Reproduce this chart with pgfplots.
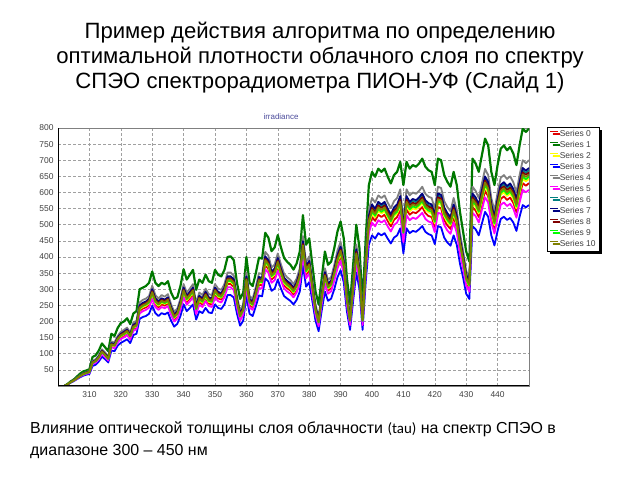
\documentclass[border=0pt]{standalone}
\usepackage{fontspec}
\setmainfont{Liberation Sans}
\newfontfamily\calib{Carlito}
\usepackage{pgfplots}
\usepackage{pgfplotstable}
\pgfplotsset{compat=1.18}
\usetikzlibrary{shadows}
\definecolor{sGreen}{HTML}{007800}
\definecolor{sRed}{HTML}{E00000}
\definecolor{sYellow}{HTML}{FFFF00}
\definecolor{sBlue}{HTML}{0000FF}
\definecolor{sGray}{HTML}{808080}
\definecolor{sMag}{HTML}{FF00FF}
\definecolor{sTeal}{HTML}{008080}
\definecolor{sNavy}{HTML}{000080}
\definecolor{sMaroon}{HTML}{800000}
\definecolor{sLime}{HTML}{00FF00}
\definecolor{sOlive}{HTML}{808000}
\definecolor{titleblue}{HTML}{4A4A9A}
\definecolor{gridc}{HTML}{A0A0A0}

\pgfplotstableread{
x G B gray teal dred olive lg yel red mag blue
302 0 0 0 0 0 0 0 0 0 0 0
303 6 5 5 5 5 5 5 5 5 4 4
304 14 12 12 12 12 12 12 11 11 11 10
305 20 18 19 18 18 17 17 17 17 16 15
306 29 25 26 25 24 24 24 24 23 22 21
307 38 32 33 32 31 31 31 30 30 29 27
308 45 38 39 38 37 37 36 36 35 34 32
309 48 42 43 42 41 41 40 40 39 38 35
310 52 45 47 45 44 44 43 43 42 40 37
311 90 75 78 74 74 73 72 71 70 68 62
312 95 80 83 79 78 78 77 76 74 72 66
313 110 92 95 91 90 89 88 87 86 83 76
314 132 110 114 109 108 107 106 105 102 99 91
315 120 100 104 99 98 97 96 95 93 90 83
316 108 88 91 87 86 85 84 84 82 79 73
317 162 133 138 132 130 129 128 126 124 120 110
318 155 130 135 129 127 126 125 124 121 117 108
319 180 150 155 149 147 146 144 143 140 135 125
320 195 162 168 160 159 157 156 154 151 146 134
321 200 168 174 166 165 163 161 160 156 151 139
322 210 175 181 173 172 170 168 166 163 158 145
323 192 160 166 158 157 155 154 152 149 144 133
324 225 190 197 188 186 184 182 181 177 171 158
325 232 195 202 193 191 189 187 185 181 176 162
326 300 250 259 248 245 243 240 238 233 225 208
327 305 258 267 255 253 250 248 245 240 232 214
328 310 262 271 259 257 254 252 249 244 236 217
329 320 270 279 267 265 262 259 257 251 243 224
330 355 300 311 297 294 291 288 285 279 270 249
331 320 272 282 269 267 264 261 258 253 245 226
332 310 262 271 259 257 254 252 249 244 236 217
333 320 272 282 269 267 264 261 258 253 245 226
334 315 268 277 265 263 260 257 255 249 241 222
335 325 275 285 272 270 267 264 261 256 248 228
336 290 245 254 243 240 238 235 233 228 221 203
337 270 222 230 220 218 215 213 211 206 200 184
338 275 232 240 230 227 225 223 220 216 209 193
339 310 262 271 259 257 254 252 249 244 236 217
340 362 305 316 302 299 296 293 290 284 275 253
341 330 280 290 277 274 272 269 266 260 252 232
342 345 292 302 289 286 283 280 277 272 263 242
343 360 305 316 302 299 296 293 290 284 275 253
344 298 248 257 246 243 241 238 236 231 223 206
345 330 280 290 277 274 272 269 266 260 252 232
346 320 272 282 269 267 264 261 258 253 245 226
347 345 292 302 289 286 283 280 277 272 263 242
348 325 275 285 272 270 267 264 261 256 248 228
349 320 272 282 269 267 264 261 258 253 245 226
350 360 305 316 302 299 296 293 290 284 275 253
351 345 292 302 289 286 283 280 277 272 263 242
352 340 288 298 285 282 279 276 274 268 259 239
353 360 305 316 302 299 296 293 290 284 275 253
354 400 340 352 337 333 330 326 323 316 306 282
355 402 340 352 337 333 330 326 323 316 306 282
356 390 330 342 327 323 320 317 314 307 297 274
357 320 270 279 267 265 262 259 257 251 243 224
358 270 225 233 223 221 218 216 214 209 203 187
359 290 245 254 243 240 238 235 233 228 221 203
360 400 340 352 337 333 330 326 323 316 306 282
361 320 270 279 267 265 262 259 257 251 243 224
362 310 262 271 259 257 254 252 249 244 236 217
363 350 297 307 294 291 288 285 282 276 267 247
364 398 338 350 335 331 328 324 321 314 304 281
365 395 335 347 332 328 325 322 318 312 302 278
366 475 402 416 398 394 390 386 382 374 362 334
367 460 390 404 386 382 378 374 371 363 351 324
368 418 355 367 351 348 344 341 337 330 320 295
369 430 364 377 360 357 353 349 346 339 328 302
370 468 397 411 393 389 385 381 377 369 357 330
371 430 364 377 360 357 353 349 346 339 328 302
372 397 336 348 333 329 326 323 319 312 302 279
373 385 326 337 323 319 316 313 310 303 293 271
374 376 318 329 315 312 308 305 302 296 286 264
375 361 305 316 302 299 296 293 290 284 275 253
376 380 322 333 319 316 312 309 306 299 290 267
377 417 353 365 349 346 342 339 335 328 318 293
378 530 449 465 445 440 436 431 427 418 404 373
379 438 371 384 367 364 360 356 352 345 334 308
380 458 388 402 384 380 376 372 369 361 349 322
381 376 318 329 315 312 308 305 302 296 286 264
382 294 245 254 243 240 238 235 233 228 221 203
383 253 205 212 203 201 199 197 195 191 185 170
384 335 283 293 280 277 275 272 269 263 255 235
385 417 353 365 349 346 342 339 335 328 318 293
386 376 318 329 315 312 308 305 302 296 286 264
387 386 327 338 324 320 317 314 311 304 294 271
388 428 363 376 359 356 352 348 345 338 327 301
389 479 406 420 402 398 394 390 386 378 365 337
390 510 432 447 428 423 419 415 410 402 389 359
391 458 388 402 384 380 376 372 369 361 349 322
392 335 280 290 277 274 272 269 266 260 252 232
393 253 210 217 208 206 204 202 200 195 189 174
394 376 318 329 315 312 308 305 302 296 286 264
395 500 424 439 420 416 411 407 403 394 382 352
396 428 363 376 359 356 352 348 345 338 327 301
397 253 210 217 208 206 204 202 200 195 189 174
398 458 388 402 384 380 376 372 369 361 349 322
399 623 528 546 523 517 512 507 502 491 475 438
400 664 563 583 557 552 546 540 535 524 507 467
401 649 550 569 545 539 534 528 523 512 495 457
402 674 571 591 565 560 554 548 542 531 514 474
403 664 563 583 557 552 546 540 535 524 507 467
404 674 571 591 565 560 554 548 542 531 514 474
405 649 550 569 545 539 534 528 523 512 495 457
406 628 532 551 527 521 516 511 505 495 479 442
407 654 554 573 548 543 537 532 526 515 499 460
408 664 563 583 557 552 546 540 535 524 507 467
409 695 589 610 583 577 571 565 560 548 530 489
410 623 495 512 490 485 480 475 470 460 446 411
411 695 589 610 583 577 571 565 560 548 530 489
412 674 571 591 565 560 554 548 542 531 514 474
413 685 580 600 574 568 563 557 551 539 522 481
414 680 576 596 570 564 559 553 547 536 518 478
415 690 585 605 579 573 567 562 556 544 527 486
416 705 597 618 591 585 579 573 567 555 537 496
417 680 576 596 570 564 559 553 547 536 518 478
418 669 567 587 561 556 550 544 539 527 510 471
419 664 563 583 557 552 546 540 535 524 507 467
420 623 530 549 525 519 514 509 504 493 477 440
421 705 597 618 591 585 579 573 567 555 537 496
422 700 593 614 587 581 575 569 563 551 534 492
423 654 554 573 548 543 537 532 526 515 499 460
424 633 536 555 531 525 520 515 509 498 482 445
425 618 524 542 519 514 508 503 498 487 472 435
426 664 563 583 557 552 546 540 535 524 507 467
427 623 528 546 523 517 512 507 502 491 475 438
428 541 458 474 453 449 444 440 435 426 412 380
429 479 406 420 402 398 394 390 386 378 365 337
430 417 345 357 342 338 335 331 328 321 311 286
431 386 325 336 322 319 315 312 309 302 293 270
432 705 597 618 591 585 579 573 567 555 537 496
433 690 585 605 579 573 567 562 556 544 527 486
434 664 563 583 557 552 546 540 535 524 507 467
435 716 607 628 601 595 589 583 577 565 546 504
436 767 650 673 644 637 631 624 618 605 585 540
437 746 632 654 626 619 613 607 600 588 569 525
438 664 563 583 557 552 546 540 535 524 507 467
439 623 525 543 520 515 509 504 499 488 473 436
440 685 580 600 574 568 563 557 551 539 522 481
441 736 624 646 618 612 605 599 593 580 562 518
442 746 632 654 626 619 613 607 600 588 569 525
443 731 620 642 614 608 601 595 589 577 558 515
444 741 628 650 622 615 609 603 597 584 565 521
445 721 611 632 605 599 593 587 580 568 550 507
446 685 580 600 574 568 563 557 551 539 522 481
447 746 632 654 626 619 613 607 600 588 569 525
448 798 676 700 669 662 656 649 642 629 608 561
449 788 668 691 661 655 648 641 635 621 601 554
450 798 676 700 669 662 656 649 642 629 608 561
}\spectab

\begin{document}
\begin{tikzpicture}[x=1bp,y=1bp]
\path[use as bounding box] (0bp,0bp) rectangle (640bp,480bp);
% title
\node[anchor=base, inner sep=0pt] at (320bp,441bp) {\fontsize{22.2}{25}\selectfont Пример действия алгоритма по определению};
\node[anchor=base, inner sep=0pt] at (320bp,416bp) {\fontsize{22.2}{25}\selectfont оптимальной плотности облачного слоя по спектру};
\node[anchor=base, inner sep=0pt] at (320bp,391bp) {\fontsize{22.2}{25}\selectfont СПЭО спектрорадиометра ПИОН-УФ (Слайд 1)};
% caption
\node[anchor=base west, inner sep=0pt] at (30bp,46bp) {\fontsize{16}{19}\selectfont Влияние оптической толщины слоя облачности {\calib\fontsize{15}{18}\selectfont (tau)} на спектр СПЭО в};
\node[anchor=base west, inner sep=0pt] at (30bp,25bp) {\fontsize{16}{19}\selectfont диапазоне 300 -- 450 нм};
% chart title
\node[anchor=base, text=titleblue, inner sep=0pt] at (281bp,360bp) {\fontsize{8}{9}\selectfont irradiance};
\begin{axis}[
  at={(58bp,94bp)}, anchor=south west,
  width=471bp, height=258bp, scale only axis,
  xmin=300, xmax=450, ymin=0, ymax=800,
  xtick={310,320,...,440}, ytick={50,100,...,800},
  grid=major,
  major grid style={gridc, dash pattern=on 2.5bp off 2.5bp, line width=0.6bp},
  axis line style={gray, line width=0.8bp},
  tick style={draw=none},
  tick label style={font=\fontsize{8.5}{10}\selectfont, text=black!75},
  /pgf/number format/assume math mode=true,
  /pgf/number format/set thousands separator={},
  xticklabel style={yshift=-2bp},
  yticklabel style={xshift=-1bp},
  clip=true,
  every axis plot/.append style={line width=1.8bp, no markers, line join=round},
  legend style={at={(axis description cs:1.038,1.004)}, anchor=north west,
    draw=black, fill=white, line width=0.6bp,
    drop shadow={shadow xshift=2.5bp, shadow yshift=-2.5bp, fill=black, opacity=1},
    font=\fontsize{8.5}{10}\selectfont, text=black!75,
    inner xsep=2bp, inner ysep=1.5bp,
    nodes={inner xsep=1.5bp, inner ysep=1.5bp, text height=6.3bp, text depth=1.7bp},
    row sep=0pt},
  legend cell align=left,
  legend image code/.code={\draw[#1, line width=1.6bp] (0bp,2.6bp) -- (7.5bp,2.6bp);},
]
\addplot[sRed] table[x=x, y=red] {\spectab};
\addlegendentry{Series 0}
\addplot[sGreen, line width=2.2bp] table[x=x, y=G] {\spectab};
\addlegendentry{Series 1}
\addplot[sYellow] table[x=x, y=yel] {\spectab};
\addlegendentry{Series 2}
\addplot[sBlue] table[x=x, y=blue] {\spectab};
\addlegendentry{Series 3}
\addplot[sGray] table[x=x, y=gray] {\spectab};
\addlegendentry{Series 4}
\addplot[sMag] table[x=x, y=mag] {\spectab};
\addlegendentry{Series 5}
\addplot[sTeal] table[x=x, y=teal] {\spectab};
\addlegendentry{Series 6}
\addplot[sNavy] table[x=x, y=B] {\spectab};
\addlegendentry{Series 7}
\addplot[sMaroon] table[x=x, y=dred] {\spectab};
\addlegendentry{Series 8}
\addplot[sLime] table[x=x, y=lg] {\spectab};
\addlegendentry{Series 9}
\addplot[sOlive] table[x=x, y=olive] {\spectab};
\addlegendentry{Series 10}
\draw[black, line width=1.5bp] (rel axis cs:0,1) -- (rel axis cs:0,0) -- (rel axis cs:1,0);
\end{axis}
\end{tikzpicture}
\end{document}
